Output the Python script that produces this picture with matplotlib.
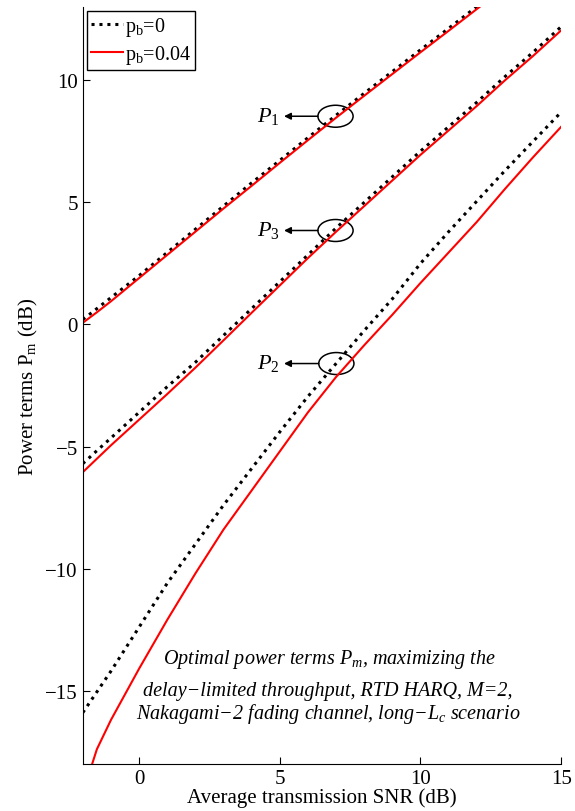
import numpy as np
import matplotlib
matplotlib.use('Agg')
import matplotlib.pyplot as plt
from matplotlib.patches import Ellipse

plt.rcParams['font.family'] = ['Liberation Serif', 'DejaVu Serif']
plt.rcParams['mathtext.fontset'] = 'custom'
plt.rcParams['mathtext.rm'] = 'Liberation Serif'
plt.rcParams['mathtext.it'] = 'Liberation Serif:italic'

# SNR grid (dB)
snr = [-2, -1.5, -1, 0, 1, 2, 3, 4, 5, 6, 7, 8, 9, 10, 11, 12, 13, 14, 15]

# p_b = 0 (black dotted)
p1_pb0 = [0.2, 0.65, 1.1, 2.0, 2.95, 3.9, 4.85, 5.8, 6.72, 7.65, 8.57, 9.47, 10.36, 11.25, 12.13, 13.02, 13.9, 14.8, 15.7]
p3_pb0 = [-5.7, -5.17, -4.65, -3.6, -2.55, -1.55, -0.45, 0.65, 1.75, 2.85, 3.95, 5.0, 6.05, 7.1, 8.1, 9.1, 10.15, 11.15, 12.2]
p2_pb0 = [-15.9, -15.05, -14.2, -12.4, -10.6, -9.0, -7.4, -5.9, -4.4, -2.95, -1.6, -0.25, 1.05, 2.5, 3.8, 5.05, 6.3, 7.5, 8.7]

# p_b = 0.04 (red solid)
p1_pb04 = [0.07, 0.5, 0.95, 1.9, 2.85, 3.8, 4.75, 5.68, 6.62, 7.55, 8.47, 9.37, 10.26, 11.15, 12.03, 12.92, 13.8, 14.7, 15.6]
p3_pb04 = [-6.05, -5.5, -4.95, -3.9, -2.85, -1.77, -0.65, 0.48, 1.6, 2.72, 3.8, 4.85, 5.9, 6.95, 7.95, 8.95, 10.0, 11.0, 12.05]
p2_pb04 = [-19.2, -17.4, -16.2, -14.1, -12.1, -10.2, -8.4, -6.8, -5.2, -3.6, -2.15, -0.85, 0.4, 1.7, 2.95, 4.2, 5.55, 6.85, 8.1]

fig = plt.figure(figsize=(5.75, 8.12), dpi=100)
ax = fig.add_axes([0.144, 0.058, 0.832, 0.932])

dot = (0, (1.0, 1.6))
ax.plot(snr, p1_pb0, color='black', lw=2.2, ls=dot, label='p$_\\mathrm{b}$=0')
ax.plot(snr, p1_pb04, color='red', lw=1.5, label='p$_\\mathrm{b}$=0.04')
ax.plot(snr, p3_pb0, color='black', lw=2.2, ls=dot)
ax.plot(snr, p3_pb04, color='red', lw=1.5)
ax.plot(snr, p2_pb0, color='black', lw=2.2, ls=dot)
ax.plot(snr, p2_pb04, color='red', lw=1.5)

ax.set_xlim(-2, 15)
ax.set_ylim(-18, 13)
ax.set_xticks([0, 5, 10, 15])
ax.set_yticks([-15, -10, -5, 0, 5, 10])
ax.tick_params(direction='in', length=5, labelsize=15)
ax.spines['top'].set_visible(False)
ax.spines['right'].set_visible(False)

ax.set_xlabel('Average transmission SNR (dB)', fontsize=15, labelpad=0)
ax.set_ylabel('Power terms P$_\\mathrm{m}$ (dB)', fontsize=15, labelpad=4)

# ellipses with arrows and labels
for cx, cy, lab in [(6.98, 8.53, '$P_1$'), (6.98, 3.85, '$P_3$'), (7.01, -1.6, '$P_2$')]:
    ax.add_patch(Ellipse((cx, cy), 1.25, 0.9, fill=False, lw=1.1, color='black'))
    ax.annotate('', xy=(5.15, cy), xytext=(cx - 0.625, cy),
                arrowprops=dict(arrowstyle='-|>', lw=1.1, color='black',
                                shrinkA=0, shrinkB=0, mutation_scale=10))
    ax.text(5.0, cy + 0.05, lab, fontsize=16, ha='right', va='center')

ax.text(6.76, -13.7, 'Optimal power terms $P_m$, maximizing the',
        fontsize=14.5, style='italic', ha='center', va='center')
ax.text(6.72, -14.98, 'delay\u2212limited throughput, RTD HARQ, M=2,',
        fontsize=14.5, style='italic', ha='center', va='center')
ax.text(6.72, -15.9, 'Nakagami\u22122 fading channel, long\u2212$L_c$ scenario',
        fontsize=14.5, style='italic', ha='center', va='center')

leg = ax.legend(loc='upper left', fontsize=14.5, handlelength=1.6, handletextpad=0.1,
                borderpad=0.2, labelspacing=0.25, fancybox=False, framealpha=1,
                edgecolor='black', borderaxespad=0.2)
leg.get_frame().set_linewidth(1.0)

fig.savefig('out.png', dpi=100)
